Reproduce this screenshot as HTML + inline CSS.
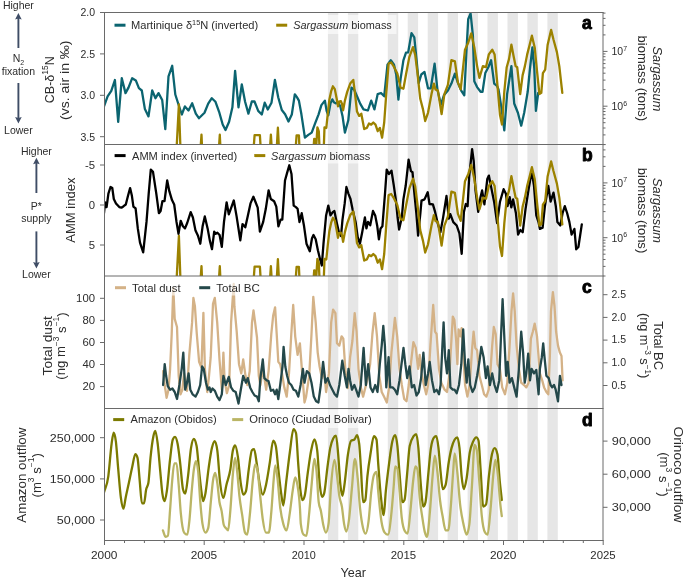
<!DOCTYPE html><html><head><meta charset="utf-8"><style>
html,body{margin:0;padding:0;background:#fff;width:685px;height:578px;overflow:hidden}
svg{display:block;will-change:transform}
text{font-family:'Liberation Sans', sans-serif;fill:#2c2c2c}
</style></head><body>
<svg width="685" height="578" viewBox="0 0 685 578">
<defs>
<clipPath id="ca"><rect x="104.5" y="12.5" width="498.5" height="132.0"/></clipPath>
<clipPath id="cb"><rect x="104.5" y="144.5" width="498.5" height="131.5"/></clipPath>
<clipPath id="cc"><rect x="104.5" y="276.0" width="498.5" height="132.5"/></clipPath>
<clipPath id="cd"><rect x="104.5" y="408.5" width="498.5" height="132.0"/></clipPath>
</defs>
<rect x="327.9" y="12.5" width="10.4" height="528.0" fill="#e6e6e6"/>
<rect x="347.9" y="12.5" width="10.4" height="528.0" fill="#e6e6e6"/>
<rect x="387.8" y="12.5" width="10.4" height="528.0" fill="#e6e6e6"/>
<rect x="407.7" y="12.5" width="10.4" height="528.0" fill="#e6e6e6"/>
<rect x="427.7" y="12.5" width="10.4" height="528.0" fill="#e6e6e6"/>
<rect x="447.6" y="12.5" width="10.4" height="528.0" fill="#e6e6e6"/>
<rect x="467.6" y="12.5" width="10.4" height="528.0" fill="#e6e6e6"/>
<rect x="487.5" y="12.5" width="10.4" height="528.0" fill="#e6e6e6"/>
<rect x="507.5" y="12.5" width="10.4" height="528.0" fill="#e6e6e6"/>
<rect x="527.4" y="12.5" width="10.4" height="528.0" fill="#e6e6e6"/>
<rect x="547.4" y="12.5" width="10.4" height="528.0" fill="#e6e6e6"/>
<polyline clip-path="url(#ca)" points="104.0,106.4 107.6,96.4 111.3,90.9 114.9,80.0 118.2,121.8 121.8,78.2 125.5,93.1 128.5,87.6 132.2,78.2 135.8,80.4 138.9,88.2 141.8,90.5 144.9,109.1 148.5,116.4 152.2,90.5 155.5,98.2 158.5,93.1 162.2,100.0 165.3,129.1 168.5,76.4 172.2,65.8 175.3,94.5 178.5,104.5 181.8,114.5 184.9,106.4 188.5,110.5 192.2,103.3 195.8,113.6 198.9,118.2 204.5,112.7 208.2,103.6 211.8,98.2 215.5,101.8 219.1,111.8 222.7,124.5 225.5,130.0 229.1,121.8 232.4,107.3 235.1,70.9 238.5,107.3 241.8,84.5 245.1,101.8 248.4,113.6 251.8,101.5 254.5,101.5 258.2,110.9 261.8,114.5 264.7,102.7 267.8,109.5 271.5,102.7 274.9,80.0 278.2,97.3 281.8,110.0 285.1,114.2 288.5,121.5 291.8,114.5 294.8,94.3 296.9,97.1 298.9,100.6 301.4,114.3 304.9,137.7 308.3,134.9 311.7,132.6 315.1,123.4 318.6,114.3 321.4,105.1 324.9,100.6 326.6,110.9 328.3,115.4 330.6,102.9 332.3,99.4 334.0,102.3 335.7,103.4 338.0,102.3 340.3,106.3 342.6,116.6 344.9,132.6 348.3,120.3 351.5,87.6 354.2,89.8 357.0,96.3 360.3,103.9 363.5,109.4 367.9,110.5 371.2,100.7 374.4,109.4 377.7,94.1 381.0,93.0 384.2,96.3 387.5,64.7 390.8,60.3 394.0,64.7 396.2,74.5 398.4,99.6 400.6,78.9 403.4,60.3 406.0,52.7 408.2,52.3 411.5,33.1 414.3,37.4 416.5,59.2 418.7,83.2 421.3,74.5 424.5,71.9 428.0,88.3 430.8,88.3 434.6,63.7 437.4,89.4 440.9,104.6 443.9,95.3 447.9,90.6 451.4,83.6 454.9,73.6 457.9,82.9 461.2,90.6 464.3,95.3 466.6,48.6 468.2,19.3 470.6,13.5 472.9,35.7 474.3,81.3 477.1,87.1 480.6,91.8 482.5,91.8 485.3,73.1 488.3,67.2 491.1,60.2 494.2,83.6 497.0,85.9 498.5,89.4 501.5,108.1 504.3,130.3 507.1,94.1 511.4,66.1 514.2,103.5 517.9,112.8 521.2,125.7 524.2,112.8 527.7,91.8 530.0,68.4 532.4,47.4 534.3,68.4 535.9,110.9 538.2,92.9" fill="none" stroke="#0b6470" stroke-width="2.30" stroke-linejoin="round" stroke-linecap="round"/>
<polyline clip-path="url(#ca)" points="170.0,170.0 176.5,150.0 178.9,104.3 180.5,150.0 182.0,170.0 199.0,170.0 201.5,134.7 203.0,170.0 217.5,170.0 219.8,134.7 221.5,170.0 252.0,170.0 254.6,135.2 259.9,135.2 262.0,170.0 268.5,170.0 270.9,134.7 273.0,170.0 275.5,170.0 277.9,127.7 280.0,170.0 294.0,170.0 296.6,135.4 298.9,135.4 300.5,170.0 312.0,170.0 314.2,138.9 315.4,139.4 316.0,150.0 317.4,127.4 318.8,131.4 320.5,170.0 323.0,170.0 324.5,127.4 326.3,128.0 327.7,114.3 329.4,99.4 331.1,91.4 332.9,86.3 334.8,89.1 336.6,98.3 338.0,106.3 339.1,101.7 340.9,101.1 342.0,104.0 343.1,110.3 344.9,100.6 347.2,91.9 350.4,83.2 353.3,79.9 354.8,91.9 357.0,111.6 359.2,115.9 361.3,113.7 364.2,129.0 366.8,127.9 369.0,123.5 371.2,124.6 373.3,122.5 375.5,124.6 377.7,131.2 379.9,127.9 382.1,137.7 384.2,122.5 386.4,91.9 388.6,63.6 391.2,62.5 394.0,66.9 397.3,73.4 400.6,87.6 403.4,88.7 406.0,74.5 409.3,57.1 413.0,47.2 415.2,54.9 417.4,72.3 420.2,98.5 423.0,109.4 425.2,121.0 428.0,112.8 431.5,94.1 433.9,83.6 435.5,89.4 437.9,90.6 441.6,114.0 444.4,94.1 447.9,84.8 451.4,60.2 454.9,61.4 457.9,82.4 460.7,89.4 465.0,49.7 468.2,42.7 471.3,33.4 474.3,47.4 477.1,66.1 479.4,77.8 482.9,66.1 486.0,67.2 488.8,54.4 492.3,49.7 494.6,54.4 497.0,80.1 500.0,115.1 502.0,124.5 504.3,91.8 506.7,67.2 509.0,59.1 511.4,44.6 513.7,56.7 515.6,66.1 517.2,67.2 520.2,94.1 522.6,75.4 524.9,66.1 527.2,54.4 529.6,45.0 531.9,35.7 534.7,47.4 537.1,71.9 539.4,94.1 541.3,92.9 542.9,73.1 545.2,69.6 547.6,45.0 551.1,29.9 553.4,39.2 556.9,52.1 559.3,66.1 562.3,92.9" fill="none" stroke="#9c8200" stroke-width="2.30" stroke-linejoin="round" stroke-linecap="round"/>
<polyline clip-path="url(#cb)" points="104.0,213.2 105.1,202.3 106.6,207.1 108.4,193.6 110.5,187.0 112.3,188.1 113.8,199.0 116.0,203.4 119.3,207.1 121.4,207.7 123.6,206.2 125.8,204.5 128.0,195.8 130.1,188.1 131.9,195.8 133.4,206.6 135.6,208.4 137.8,228.4 140.0,242.6 143.2,252.4 146.5,221.9 148.7,193.6 150.8,169.6 153.0,171.8 156.3,193.6 158.9,213.2 160.6,211.0 162.4,201.2 164.5,201.2 167.2,180.5 169.4,191.4 172.0,200.1 174.2,204.5 176.5,221.9 178.5,233.9 180.7,220.8 182.9,226.3 185.0,228.4 187.2,223.0 190.7,212.1 192.9,217.5 195.5,230.6 198.1,236.1 200.3,243.7 202.6,226.3 204.8,216.4 207.6,228.4 209.8,240.4 212.0,249.1 214.2,231.7 215.7,233.9 217.4,232.8 219.6,235.0 221.8,246.9 224.0,221.9 226.6,202.3 228.8,214.3 231.6,206.6 233.8,200.5 236.6,216.4 240.3,240.4 242.5,224.1 245.3,227.3 247.9,215.4 250.5,203.4 253.4,196.8 255.6,202.3 257.7,207.7 259.9,231.7 263.2,221.9 265.8,208.8 268.6,190.3 270.8,199.0 274.1,201.2 276.3,206.6 278.4,226.3 280.6,219.7 282.3,219.7 285.0,180.5 287.1,172.9 289.3,165.3 291.5,174.0 293.7,205.6 295.9,207.1 297.6,208.8 299.5,222.0 301.7,213.2 303.9,225.2 306.5,243.7 309.8,251.3 312.0,238.2 313.5,235.0 315.7,239.3 317.9,250.2 320.0,258.9 321.8,265.5 323.5,243.7 326.1,215.4 328.3,205.6 330.5,215.4 332.7,212.1 334.4,211.0 336.6,221.9 338.8,231.7 341.0,236.1 342.5,219.7 344.7,203.4 346.4,187.0 348.4,193.6 350.5,199.0 352.7,209.9 355.6,221.9 357.7,237.1 359.9,243.7 362.1,232.8 364.9,217.5 366.4,228.4 368.0,221.9 370.2,225.2 373.0,211.0 375.2,215.4 377.3,226.3 378.9,239.3 380.6,228.4 382.4,226.3 385.0,193.6 386.7,169.6 388.9,174.0 391.5,170.7 393.7,184.9 395.9,200.1 397.6,217.5 399.1,229.5 401.8,217.6 403.4,199.4 405.7,185.8 408.6,159.7 410.9,171.1 412.5,172.2 414.1,190.4 416.3,213.0 418.1,235.7 420.4,213.0 421.5,200.6 424.5,199.4 427.7,192.2 429.5,204.0 432.9,204.4 435.1,211.9 437.4,222.1 440.4,232.3 443.1,217.6 446.5,196.0 448.8,218.7 450.3,214.2 453.3,222.1 456.7,225.5 459.4,233.4 461.7,253.8 463.9,211.9 465.8,204.0 467.6,206.2 469.2,176.7 472.1,149.1 473.7,160.9 475.5,190.4 478.2,211.9 480.5,197.2 482.1,190.4 484.4,204.4 487.3,179.0 488.9,175.6 491.8,190.4 494.1,201.7 497.1,223.2 500.0,201.7 503.6,189.2 505.9,193.8 507.5,206.2 509.7,197.2 511.3,207.4 513.1,199.4 515.9,213.0 518.1,234.6 520.4,230.0 522.7,232.3 525.6,208.5 528.6,189.2 531.7,171.1 534.0,185.8 536.3,215.3 538.5,222.1 539.9,228.9 542.6,227.8 544.9,206.2 548.3,185.8 550.6,201.7 553.5,192.6 555.8,206.2 557.4,222.1 560.3,225.5 562.6,213.0 564.8,206.2 567.1,213.0 569.4,222.1 571.6,234.6 574.4,228.9 576.2,249.3 578.4,247.0 581.8,224.4" fill="none" stroke="#000000" stroke-width="2.30" stroke-linejoin="round" stroke-linecap="round"/>
<polyline clip-path="url(#cb)" points="170.0,301.5 176.5,281.5 178.9,235.8 180.5,281.5 182.0,301.5 199.0,301.5 201.5,266.2 203.0,301.5 217.5,301.5 219.8,266.2 221.5,301.5 252.0,301.5 254.6,266.7 259.9,266.7 262.0,301.5 268.5,301.5 270.9,266.2 273.0,301.5 275.5,301.5 277.9,259.2 280.0,301.5 294.0,301.5 296.6,266.9 298.9,266.9 300.5,301.5 312.0,301.5 314.2,270.4 315.4,270.9 316.0,281.5 317.4,258.9 318.8,262.9 320.5,301.5 323.0,301.5 324.5,258.9 326.3,259.5 327.7,245.8 329.4,230.9 331.1,222.9 332.9,217.8 334.8,220.6 336.6,229.8 338.0,237.8 339.1,233.2 340.9,232.6 342.0,235.5 343.1,241.8 344.9,232.1 347.2,223.4 350.4,214.7 353.3,211.4 354.8,223.4 357.0,243.1 359.2,247.4 361.3,245.2 364.2,260.5 366.8,259.4 369.0,255.0 371.2,256.1 373.3,254.0 375.5,256.1 377.7,262.7 379.9,259.4 382.1,269.2 384.2,254.0 386.4,223.4 388.6,195.1 391.2,194.0 394.0,198.4 397.3,204.9 400.6,219.1 403.4,220.2 406.0,206.0 409.3,188.6 413.0,178.7 415.2,186.4 417.4,203.8 420.2,230.0 423.0,240.9 425.2,252.5 428.0,244.3 431.5,225.6 433.9,215.1 435.5,220.9 437.9,222.1 441.6,245.5 444.4,225.6 447.9,216.3 451.4,191.7 454.9,192.9 457.9,213.9 460.7,220.9 465.0,181.2 468.2,174.2 471.3,164.9 474.3,178.9 477.1,197.6 479.4,209.3 482.9,197.6 486.0,198.7 488.8,185.9 492.3,181.2 494.6,185.9 497.0,211.6 500.0,246.6 502.0,256.0 504.3,223.3 506.7,198.7 509.0,190.6 511.4,176.1 513.7,188.2 515.6,197.6 517.2,198.7 520.2,225.6 522.6,206.9 524.9,197.6 527.2,185.9 529.6,176.5 531.9,167.2 534.7,178.9 537.1,203.4 539.4,225.6 541.3,224.4 542.9,204.6 545.2,201.1 547.6,176.5 551.1,161.4 553.4,170.7 556.9,183.6 559.3,197.6 562.3,224.4" fill="none" stroke="#9c8200" stroke-width="2.30" stroke-linejoin="round" stroke-linecap="round"/>
<polyline clip-path="url(#cc)" points="163.1,371.1 164.7,385.0 166.6,397.8 168.5,389.7 170.1,368.8 171.7,334.0 173.3,288.0 174.7,318.9 177.0,327.0 178.7,375.8 180.5,394.3 182.4,389.7 184.0,373.4 185.6,385.0 187.0,390.8 189.3,354.9 192.1,322.4 193.4,297.9 194.9,306.2 196.8,334.0 199.1,361.8 201.4,367.6 203.4,312.8 204.9,368.8 207.2,392.0 208.8,378.1 210.7,357.2 213.0,303.8 214.8,297.9 217.2,322.4 219.5,359.5 221.8,389.7 223.4,352.6 224.6,380.4 226.9,393.2 229.2,385.0 231.1,322.4 233.7,284.0 234.4,306.2 236.7,331.7 239.0,364.2 241.3,373.4 243.2,359.5 245.5,375.8 247.3,385.0 249.7,371.1 252.0,322.4 253.5,310.5 255.1,322.4 257.0,337.5 258.8,375.8 260.4,385.0 262.8,368.8 264.4,378.1 266.2,389.7 268.6,371.1 271.3,334.0 273.2,315.4 275.1,307.3 276.7,334.0 278.3,361.8 280.2,364.2 282.0,373.4 284.3,387.4 286.7,396.6 289.0,373.4 291.3,334.0 293.2,305.0 295.2,336.3 297.6,354.9 299.9,343.3 302.2,373.4 304.5,402.5 306.1,396.6 309.2,375.8 311.5,334.0 313.3,296.9 315.7,322.4 317.7,352.6 319.6,366.5 321.9,378.1 323.8,368.8 326.1,392.0 328.9,373.4 331.2,322.4 333.1,309.6 335.4,313.1 337.0,343.3 339.3,345.6 341.6,336.3 343.3,338.6 345.5,372.0 347.8,388.0 350.1,357.2 352.4,341.0 354.7,313.1 356.6,331.7 358.5,368.8 360.8,387.4 363.1,396.6 365.4,387.4 367.7,378.1 370.1,364.2 372.4,334.0 374.7,313.1 377.0,336.3 379.3,375.8 381.7,392.0 384.0,396.6 386.8,402.5 389.1,387.4 391.4,352.6 393.3,334.0 394.9,317.8 397.2,336.3 399.5,368.8 401.8,385.0 404.2,399.0 406.5,401.3 408.8,385.0 411.1,361.8 413.4,342.1 415.8,347.9 418.1,368.8 419.7,354.9 421.6,373.4 423.9,385.0 426.2,394.3 428.1,385.0 430.4,345.6 432.0,322.4 433.2,305.0 435.0,331.7 436.6,334.0 439.0,368.8 441.3,382.7 444.6,389.7 447.0,392.0 449.3,375.8 451.1,345.6 452.8,316.6 454.4,320.1 456.2,341.0 457.4,364.2 458.6,329.4 460.4,336.3 461.6,328.2 463.2,352.6 465.1,385.0 467.4,396.6 469.7,385.0 472.0,350.2 473.6,331.7 475.3,347.9 477.1,350.2 479.4,375.8 481.8,385.0 484.1,394.3 486.4,396.6 488.7,389.7 490.6,368.8 492.2,345.6 493.8,327.0 495.7,334.0 497.5,364.2 499.9,368.8 502.2,387.4 505.0,394.3 507.3,382.7 509.6,345.6 511.5,310.8 513.1,293.4 514.7,310.8 516.6,345.6 518.9,368.8 521.2,382.7 524.0,385.0 526.3,387.4 528.6,382.7 530.9,338.6 532.8,331.7 534.7,323.6 537.0,336.3 539.9,373.4 542.2,380.4 544.1,387.4 546.4,392.0 548.3,394.3 549.9,354.9 551.0,310.8 552.9,292.2 554.5,306.2 556.1,331.7 558.0,345.6 559.9,352.6 561.5,356.0 562.6,380.4" fill="none" stroke="#d4b287" stroke-width="2.30" stroke-linejoin="round" stroke-linecap="round"/>
<polyline clip-path="url(#cc)" points="163.1,385.0 164.7,364.2 166.1,375.8 167.8,386.2 170.1,389.7 172.4,388.5 174.7,392.0 177.0,399.0 179.4,385.0 181.7,368.8 183.3,352.6 185.2,389.7 187.0,382.7 188.6,373.4 190.3,389.7 192.6,394.3 195.6,396.6 197.9,392.0 200.2,385.0 202.1,366.5 203.7,368.8 206.0,382.7 207.9,389.7 209.5,387.4 210.7,392.0 212.5,388.5 214.9,390.8 217.2,396.6 219.5,400.1 221.8,394.3 223.4,375.8 225.8,385.0 228.8,376.9 231.1,387.4 233.4,390.8 235.7,392.0 238.5,403.6 240.8,389.7 243.2,375.8 245.9,382.7 247.8,378.1 250.1,387.4 252.4,392.0 254.6,395.5 257.0,396.6 258.8,401.3 260.4,378.1 262.8,359.5 264.4,378.1 266.7,380.4 268.5,381.0 270.9,390.8 273.2,389.7 275.1,394.3 276.7,389.7 278.3,399.0 280.2,385.0 282.5,366.5 283.6,346.8 285.3,366.5 287.1,375.8 289.0,382.7 291.3,385.0 293.6,389.7 295.9,390.8 298.3,396.6 300.6,385.0 302.9,368.8 304.5,382.7 306.8,371.1 309.2,373.4 311.5,382.7 313.8,396.6 316.1,401.3 318.4,402.5 320.8,385.0 323.1,361.8 325.4,382.7 327.7,378.1 330.0,385.0 332.4,389.7 334.7,394.3 337.0,396.6 339.3,385.0 342.3,360.7 344.7,375.8 346.9,387.4 348.5,368.8 350.1,380.4 352.0,389.7 354.3,385.0 356.1,389.7 358.5,396.6 360.8,385.0 363.6,347.9 365.9,385.0 368.2,364.2 370.5,387.4 372.8,392.0 375.2,385.0 377.5,392.0 379.8,364.2 381.7,345.6 383.3,325.9 384.9,345.6 386.3,387.4 388.6,357.2 390.2,387.4 392.6,387.4 394.9,389.7 397.2,394.3 399.5,380.4 401.8,361.8 403.5,347.9 405.3,364.2 407.2,378.1 409.5,366.5 411.8,387.4 414.1,385.0 416.5,395.5 418.8,392.0 421.1,378.1 423.4,352.6 425.7,385.0 428.1,373.4 429.7,361.8 432.0,380.4 434.3,392.0 436.6,389.7 439.0,394.3 440.6,385.0 442.4,345.6 443.6,322.4 445.1,357.2 447.0,373.4 448.8,350.2 450.4,387.4 452.8,389.7 454.5,389.7 456.7,393.2 459.0,385.0 461.3,364.2 463.2,329.4 465.1,364.2 466.7,382.7 468.3,359.5 470.2,385.0 472.5,392.0 474.8,387.4 477.1,375.8 479.4,361.8 481.3,346.8 483.6,357.2 485.9,378.1 487.6,366.5 489.9,385.0 492.2,373.4 494.5,385.0 496.8,392.0 499.2,380.4 500.8,341.0 502.6,299.2 504.5,341.0 506.1,375.8 507.7,361.8 509.6,382.7 511.9,378.1 514.2,387.4 516.6,396.6 518.9,368.8 521.2,331.7 523.1,352.6 524.7,382.7 526.3,373.4 528.2,353.7 530.0,380.4 531.6,368.8 534.0,373.4 536.3,370.0 538.6,394.3 539.9,368.8 541.8,357.2 543.2,343.3 544.5,357.2 546.4,375.8 548.7,378.1 550.6,385.0 552.2,387.4 554.0,385.0 555.7,389.7 558.0,401.3 559.9,375.8 561.5,385.0" fill="none" stroke="#24484a" stroke-width="2.30" stroke-linejoin="round" stroke-linecap="round"/>
<path clip-path="url(#cd)" d="M104.0,492.5 C105.43,487.10 106.87,486.63 108.3,476.3 C109.40,468.37 110.50,451.60 111.6,443.8 C112.30,438.84 113.00,432.60 113.7,432.6 C114.43,432.60 115.17,435.77 115.9,441.6 C116.63,447.43 117.37,459.25 118.1,467.6 C119.03,478.22 119.97,491.03 120.9,497.9 C121.77,504.28 122.63,508.70 123.5,508.7 C124.20,508.70 124.90,501.35 125.6,497.9 C126.70,492.49 127.80,487.93 128.9,482.8 C129.97,477.82 131.03,472.30 132.1,467.6 C133.20,462.75 134.30,454.20 135.4,454.2 C136.10,454.20 136.80,455.43 137.5,457.9 C138.23,460.48 138.97,473.03 139.7,480.6 C140.43,488.17 141.17,503.30 141.9,503.3 C142.60,503.30 143.30,503.30 144.0,503.3 C144.73,503.30 145.47,492.72 146.2,489.3 C146.93,485.88 147.67,487.13 148.4,482.8 C149.10,478.66 149.80,464.91 150.5,457.9 C151.47,448.21 152.43,440.72 153.4,436.2 C154.03,433.24 154.67,430.80 155.3,430.8 C156.10,430.80 156.90,437.40 157.7,443.8 C158.57,450.74 159.43,462.76 160.3,471.9 C161.00,479.28 161.70,488.76 162.4,493.6 C163.13,498.67 163.87,501.20 164.6,501.2 C165.33,501.20 166.07,496.27 166.8,491.4 C167.87,484.32 168.93,469.05 170.0,460.0 C170.93,452.08 171.87,441.71 172.8,439.5 C173.53,437.77 174.27,436.90 175.0,436.9 C175.87,436.90 176.73,439.40 177.6,443.8 C178.47,448.20 179.33,456.05 180.2,463.3 C181.13,471.10 182.07,485.65 183.0,489.3 C183.73,492.17 184.47,493.60 185.2,493.6 C186.13,493.60 187.07,483.52 188.0,476.3 C189.00,468.57 190.00,454.32 191.0,448.1 C191.93,442.30 192.87,439.00 193.8,439.0 C194.73,439.00 195.67,441.33 196.6,446.0 C197.47,450.33 198.33,463.78 199.2,471.9 C199.93,478.77 200.67,486.28 201.4,491.4 C202.00,495.59 202.60,501.20 203.2,501.2 C203.93,501.20 204.67,497.43 205.4,493.6 C206.50,487.85 207.60,475.27 208.7,467.6 C209.77,460.16 210.83,452.54 211.9,448.1 C212.83,444.22 213.77,441.20 214.7,441.2 C215.57,441.20 216.43,444.23 217.3,450.3 C218.17,456.37 219.03,472.98 219.9,480.6 C221.07,490.86 222.23,497.90 223.4,497.9 C224.40,497.90 225.40,489.03 226.4,484.9 C227.70,479.53 229.00,477.66 230.3,469.8 C231.17,464.56 232.03,454.08 232.9,450.3 C233.63,447.10 234.37,445.50 235.1,445.5 C236.03,445.50 236.97,450.58 237.9,456.8 C238.83,463.02 239.77,476.41 240.7,482.8 C241.57,488.73 242.43,494.70 243.3,494.7 C244.17,494.70 245.03,493.60 245.9,491.4 C246.83,489.03 247.77,476.29 248.7,469.8 C249.77,462.38 250.83,451.37 251.9,450.3 C252.63,449.57 253.37,449.20 254.1,449.2 C254.97,449.20 255.83,457.96 256.7,463.3 C257.63,469.05 258.57,477.74 259.5,482.8 C260.60,488.77 261.70,494.70 262.8,494.7 C263.87,494.70 264.93,489.54 266.0,484.9 C267.23,479.54 268.47,470.91 269.7,463.3 C270.87,456.10 272.03,440.60 273.2,440.6 C274.07,440.60 274.93,442.40 275.8,446.0 C276.67,449.60 277.53,462.14 278.4,469.8 C279.33,478.05 280.27,487.18 281.2,493.6 C281.90,498.42 282.60,505.50 283.3,505.5 C284.23,505.50 285.17,490.40 286.1,482.8 C287.33,472.76 288.57,461.45 289.8,452.5 C291.03,443.55 292.27,429.10 293.5,429.1 C294.33,429.10 295.17,430.40 296.0,433.0 C296.73,435.29 297.47,453.72 298.2,463.3 C298.90,472.44 299.60,483.19 300.3,489.3 C301.03,495.70 301.77,500.10 302.5,500.1 C303.23,500.10 303.97,498.67 304.7,495.8 C305.77,491.63 306.83,479.38 307.9,471.9 C309.00,464.18 310.10,455.73 311.2,450.3 C312.27,445.04 313.33,439.50 314.4,439.5 C315.33,439.50 316.27,443.10 317.2,450.3 C318.07,456.99 318.93,477.07 319.8,484.9 C320.53,491.52 321.27,496.80 322.0,496.8 C322.70,496.80 323.40,495.73 324.1,493.6 C325.20,490.25 326.30,475.72 327.4,467.6 C328.33,460.71 329.27,452.92 330.2,448.1 C331.20,442.94 332.20,440.40 333.2,438.4 C334.13,436.53 335.07,435.60 336.0,435.6 C336.73,435.60 337.47,446.38 338.2,454.6 C338.93,462.82 339.67,478.02 340.4,484.9 C341.10,491.47 341.80,495.80 342.5,495.8 C343.23,495.80 343.97,488.00 344.7,482.8 C345.77,475.24 346.83,461.60 347.9,454.6 C349.00,447.38 350.10,441.36 351.2,440.6 C352.27,439.87 353.33,440.23 354.4,439.5 C355.27,438.90 356.13,435.20 357.0,435.2 C357.73,435.20 358.47,438.07 359.2,443.8 C359.77,448.23 360.33,459.24 360.9,467.6 C361.63,478.42 362.37,502.20 363.1,502.2 C363.83,502.20 364.57,501.50 365.3,500.1 C366.00,498.76 366.70,483.11 367.4,476.3 C368.50,465.60 369.60,459.25 370.7,452.5 C371.77,445.95 372.83,436.20 373.9,436.2 C374.77,436.20 375.63,437.30 376.5,439.5 C377.07,440.94 377.63,455.70 378.2,463.3 C379.07,474.92 379.93,487.35 380.8,495.8 C381.77,505.23 382.73,515.20 383.7,515.2 C384.40,515.20 385.10,498.57 385.8,491.4 C386.90,480.14 388.00,471.70 389.1,463.3 C390.17,455.16 391.23,446.29 392.3,441.6 C393.27,437.35 394.23,435.10 395.2,435.1 C395.93,435.10 396.67,439.40 397.4,445.9 C398.13,452.40 398.87,465.60 399.6,474.1 C400.53,484.92 401.47,502.20 402.4,502.2 C403.10,502.20 403.80,501.47 404.5,500.0 C405.37,498.18 406.23,483.12 407.1,474.1 C407.97,465.08 408.83,450.21 409.7,445.9 C411.00,439.43 412.30,438.12 413.6,436.2 C414.47,434.92 415.33,434.10 416.2,434.1 C416.93,434.10 417.67,440.03 418.4,448.1 C419.10,455.80 419.80,471.60 420.5,480.5 C421.47,492.79 422.43,506.50 423.4,506.5 C424.10,506.50 424.80,505.07 425.5,502.2 C426.43,498.38 427.37,483.45 428.3,474.1 C429.17,465.42 430.03,453.77 430.9,448.1 C432.00,440.90 433.10,438.45 434.2,437.3 C434.90,436.57 435.60,436.20 436.3,436.2 C437.03,436.20 437.77,441.91 438.5,448.1 C439.20,454.01 439.90,465.15 440.6,471.9 C441.33,478.97 442.07,489.20 442.8,489.2 C443.73,489.20 444.67,487.77 445.6,484.9 C446.60,481.83 447.60,469.40 448.6,463.2 C449.57,457.20 450.53,451.98 451.5,448.1 C452.57,443.82 453.63,441.28 454.7,439.5 C455.57,438.05 456.43,437.30 457.3,437.3 C458.03,437.30 458.77,441.32 459.5,448.1 C460.20,454.57 460.90,469.39 461.6,476.2 C462.33,483.34 463.07,489.20 463.8,489.2 C464.73,489.20 465.67,483.86 466.6,478.4 C467.67,472.16 468.73,458.52 469.8,452.4 C470.90,446.09 472.00,444.12 473.1,441.6 C474.17,439.15 475.23,437.30 476.3,437.3 C477.03,437.30 477.77,438.37 478.5,440.5 C479.20,442.54 479.90,459.89 480.6,469.7 C481.47,481.85 482.33,506.50 483.2,506.5 C484.17,506.50 485.13,505.77 486.1,504.3 C487.03,502.88 487.97,484.29 488.9,476.2 C489.90,467.53 490.90,459.24 491.9,454.6 C492.83,450.27 493.77,448.10 494.7,448.1 C495.63,448.10 496.57,450.27 497.5,454.6 C498.23,458.00 498.97,472.80 499.7,480.5 C500.40,487.85 501.10,493.50 501.8,500.0" fill="none" stroke="#7b7a00" stroke-width="2.30" stroke-linejoin="round" stroke-linecap="round"/>
<path clip-path="url(#cd)" d="M162.9,530.4 C163.83,532.57 164.77,536.90 165.7,536.9 C166.43,536.90 167.17,536.53 167.9,535.8 C168.60,535.10 169.30,519.85 170.0,510.9 C170.73,501.52 171.47,488.62 172.2,480.6 C172.90,472.94 173.60,463.30 174.3,463.3 C175.03,463.30 175.77,463.30 176.5,463.3 C177.23,463.30 177.97,476.35 178.7,484.9 C179.40,493.07 180.10,505.75 180.8,513.1 C181.90,524.65 183.00,531.16 184.1,532.6 C185.17,534.00 186.23,534.70 187.3,534.7 C188.03,534.70 188.77,526.82 189.5,519.6 C190.23,512.38 190.97,499.85 191.7,491.4 C192.40,483.33 193.10,474.84 193.8,469.8 C194.53,464.52 195.27,461.10 196.0,461.1 C196.73,461.10 197.47,464.73 198.2,471.9 C198.90,478.75 199.60,493.66 200.3,502.2 C201.03,511.15 201.77,519.50 202.5,523.9 C203.47,529.70 204.43,532.60 205.4,532.6 C206.33,532.60 207.27,531.13 208.2,528.2 C209.07,525.48 209.93,510.78 210.8,502.2 C211.53,494.94 212.27,485.47 213.0,480.6 C213.73,475.73 214.47,473.00 215.2,473.0 C215.90,473.00 216.60,478.11 217.3,482.8 C218.03,487.71 218.77,497.49 219.5,502.2 C220.20,506.70 220.90,507.23 221.6,510.9 C222.33,514.75 223.07,522.87 223.8,525.0 C224.53,527.13 225.27,527.29 226.0,528.2 C226.70,529.07 227.40,530.40 228.1,530.4 C228.83,530.40 229.57,519.18 230.3,510.9 C231.17,501.12 232.03,483.18 232.9,474.1 C233.63,466.42 234.37,457.90 235.1,457.9 C235.80,457.90 236.50,465.80 237.2,471.9 C237.93,478.29 238.67,489.10 239.4,495.8 C240.33,504.32 241.27,509.07 242.2,515.2 C243.13,521.33 244.07,530.82 245.0,532.6 C245.73,534.00 246.47,534.70 247.2,534.7 C248.07,534.70 248.93,523.25 249.8,515.2 C250.87,505.29 251.93,487.42 253.0,478.4 C253.73,472.20 254.47,464.40 255.2,464.4 C255.93,464.40 256.67,466.20 257.4,469.8 C258.33,474.38 259.27,487.20 260.2,495.8 C261.07,503.79 261.93,513.64 262.8,519.6 C263.87,526.93 264.93,532.60 266.0,532.6 C266.93,532.60 267.87,532.60 268.8,532.6 C269.67,532.60 270.53,520.68 271.4,510.9 C272.13,502.62 272.87,488.68 273.6,480.6 C274.17,474.36 274.73,465.50 275.3,465.5 C276.03,465.50 276.77,472.43 277.5,478.4 C278.37,485.46 279.23,499.31 280.1,506.6 C281.17,515.57 282.23,519.94 283.3,523.9 C284.40,527.99 285.50,530.40 286.6,530.4 C287.67,530.40 288.73,520.20 289.8,513.1 C290.73,506.89 291.67,497.49 292.6,491.4 C293.47,485.75 294.33,477.40 295.2,477.4 C295.93,477.40 296.67,480.47 297.4,484.9 C298.27,490.14 299.13,494.24 300.0,508.7 C300.27,513.15 300.53,521.84 300.8,523.9 C301.73,531.10 302.67,533.97 303.6,534.7 C304.53,535.43 305.47,535.80 306.4,535.8 C307.27,535.80 308.13,523.68 309.0,515.2 C309.87,506.72 310.73,494.00 311.6,484.9 C312.53,475.10 313.47,459.00 314.4,459.0 C315.13,459.00 315.87,464.39 316.6,471.9 C317.30,479.07 318.00,496.66 318.7,502.2 C319.43,508.00 320.17,507.28 320.9,510.9 C321.63,514.52 322.37,520.47 323.1,523.9 C324.03,528.26 324.97,532.60 325.9,532.6 C326.77,532.60 327.63,529.70 328.5,523.9 C329.37,518.10 330.23,495.02 331.1,484.9 C332.23,471.67 333.37,460.00 334.5,460.0 C335.37,460.00 336.23,469.65 337.1,476.3 C337.83,481.93 338.57,490.88 339.3,495.8 C340.17,501.61 341.03,501.26 341.9,506.6 C342.63,511.12 343.37,519.73 344.1,523.9 C344.80,527.88 345.50,531.50 346.2,531.5 C347.13,531.50 348.07,526.63 349.0,519.6 C349.93,512.57 350.87,498.94 351.8,489.3 C352.83,478.63 353.87,459.00 354.9,459.0 C355.83,459.00 356.77,468.86 357.7,478.4 C358.43,485.90 359.17,499.01 359.9,506.6 C360.97,517.64 362.03,523.77 363.1,528.2 C363.97,531.80 364.83,533.60 365.7,533.6 C366.63,533.60 367.57,528.73 368.5,521.7 C369.43,514.67 370.37,499.28 371.3,491.4 C372.17,484.08 373.03,477.40 373.9,475.2 C374.77,473.00 375.63,471.90 376.5,471.9 C377.07,471.90 377.63,485.34 378.2,491.4 C379.30,503.16 380.40,514.83 381.5,521.7 C382.57,528.37 383.63,531.24 384.7,532.6 C385.80,534.00 386.90,534.70 388.0,534.7 C389.07,534.70 390.13,524.97 391.2,515.2 C392.07,507.26 392.93,495.84 393.8,484.9 C394.27,479.01 394.73,466.50 395.2,466.5 C395.93,466.50 396.67,467.20 397.4,468.6 C398.13,470.00 398.87,483.06 399.6,491.4 C400.30,499.36 401.00,511.32 401.7,517.3 C402.80,526.70 403.90,529.62 405.0,531.4 C405.87,532.80 406.73,533.50 407.6,533.5 C408.53,533.50 409.47,519.63 410.4,510.8 C411.33,501.97 412.27,488.27 413.2,480.5 C413.93,474.39 414.67,466.50 415.4,466.5 C416.10,466.50 416.80,467.57 417.5,469.7 C418.23,471.93 418.97,490.21 419.7,497.8 C420.57,506.78 421.43,511.53 422.3,517.3 C423.17,523.07 424.03,529.15 424.9,532.4 C425.60,535.03 426.30,536.80 427.0,536.8 C427.93,536.80 428.87,523.10 429.8,513.0 C430.73,502.90 431.67,486.47 432.6,476.2 C433.33,468.13 434.07,455.70 434.8,455.7 C435.67,455.70 436.53,464.52 437.4,471.9 C438.27,479.28 439.13,492.56 440.0,500.0 C440.93,508.01 441.87,512.25 442.8,517.3 C443.73,522.35 444.67,530.30 445.6,530.3 C446.47,530.30 447.33,530.30 448.2,530.3 C449.07,530.30 449.93,517.05 450.8,506.5 C451.53,497.57 452.27,483.82 453.0,474.1 C453.57,466.59 454.13,453.50 454.7,453.5 C455.57,453.50 456.43,463.89 457.3,471.9 C458.23,480.52 459.17,495.93 460.1,504.3 C461.20,514.17 462.30,518.72 463.4,523.8 C464.47,528.73 465.53,534.60 466.6,534.6 C467.53,534.60 468.47,531.00 469.4,523.8 C470.27,517.11 471.13,498.05 472.0,484.9 C472.87,471.75 473.73,444.90 474.6,444.9 C475.33,444.90 476.07,446.70 476.8,450.3 C477.50,453.74 478.20,467.10 478.9,476.2 C479.83,488.33 480.77,505.84 481.7,515.1 C482.80,526.01 483.90,530.54 485.0,532.4 C485.87,533.87 486.73,534.60 487.6,534.6 C488.53,534.60 489.47,520.33 490.4,510.8 C491.47,499.91 492.53,481.08 493.6,471.9 C494.20,466.74 494.80,460.00 495.4,460.0 C496.27,460.00 497.13,467.85 498.0,476.2 C498.70,482.94 499.40,495.14 500.1,502.2 C500.67,507.92 501.23,511.53 501.8,516.2" fill="none" stroke="#bab565" stroke-width="2.30" stroke-linejoin="round" stroke-linecap="round"/>
<rect x="108" y="15" width="288.5" height="19" fill="#ffffff" fill-opacity="0.6"/>
<rect x="108" y="145.5" width="267" height="18" fill="#ffffff" fill-opacity="0.6"/>
<rect x="108" y="278" width="154" height="17.5" fill="#ffffff" fill-opacity="0.6"/>
<rect x="108" y="409.5" width="268" height="18.5" fill="#ffffff" fill-opacity="0.6"/>
<line x1="104.0" y1="12.5" x2="603.5" y2="12.5" stroke="#6a6a6a" stroke-width="1"/>
<line x1="104.0" y1="144.5" x2="603.5" y2="144.5" stroke="#6a6a6a" stroke-width="1"/>
<line x1="104.0" y1="276.0" x2="603.5" y2="276.0" stroke="#6a6a6a" stroke-width="1"/>
<line x1="104.0" y1="408.5" x2="603.5" y2="408.5" stroke="#6a6a6a" stroke-width="1"/>
<line x1="104.0" y1="540.5" x2="603.5" y2="540.5" stroke="#6a6a6a" stroke-width="1"/>
<line x1="104.5" y1="12.0" x2="104.5" y2="541.0" stroke="#6a6a6a" stroke-width="1"/>
<line x1="603.0" y1="12.0" x2="603.0" y2="541.0" stroke="#6a6a6a" stroke-width="1"/>
<line x1="100.0" y1="12.5" x2="104.5" y2="12.5" stroke="#6a6a6a" stroke-width="1"/>
<text transform="translate(95.0,16.3) scale(1.000,1)" font-size="10.5" text-anchor="end">2.0</text>
<line x1="100.0" y1="53.9" x2="104.5" y2="53.9" stroke="#6a6a6a" stroke-width="1"/>
<text transform="translate(95.0,57.7) scale(1.000,1)" font-size="10.5" text-anchor="end">2.5</text>
<line x1="100.0" y1="95.3" x2="104.5" y2="95.3" stroke="#6a6a6a" stroke-width="1"/>
<text transform="translate(95.0,99.1) scale(1.000,1)" font-size="10.5" text-anchor="end">3.0</text>
<line x1="100.0" y1="136.7" x2="104.5" y2="136.7" stroke="#6a6a6a" stroke-width="1"/>
<text transform="translate(95.0,140.5) scale(1.000,1)" font-size="10.5" text-anchor="end">3.5</text>
<line x1="100.0" y1="165.0" x2="104.5" y2="165.0" stroke="#6a6a6a" stroke-width="1"/>
<text transform="translate(95.0,168.8) scale(1.080,1)" font-size="10.5" text-anchor="end">-5</text>
<line x1="100.0" y1="205.0" x2="104.5" y2="205.0" stroke="#6a6a6a" stroke-width="1"/>
<text transform="translate(95.0,208.8) scale(1.080,1)" font-size="10.5" text-anchor="end">0</text>
<line x1="100.0" y1="245.0" x2="104.5" y2="245.0" stroke="#6a6a6a" stroke-width="1"/>
<text transform="translate(95.0,248.8) scale(1.080,1)" font-size="10.5" text-anchor="end">5</text>
<line x1="100.0" y1="298.3" x2="104.5" y2="298.3" stroke="#6a6a6a" stroke-width="1"/>
<text transform="translate(95.0,302.1) scale(1.080,1)" font-size="10.5" text-anchor="end">100</text>
<line x1="100.0" y1="320.4" x2="104.5" y2="320.4" stroke="#6a6a6a" stroke-width="1"/>
<text transform="translate(95.0,324.2) scale(1.080,1)" font-size="10.5" text-anchor="end">80</text>
<line x1="100.0" y1="342.5" x2="104.5" y2="342.5" stroke="#6a6a6a" stroke-width="1"/>
<text transform="translate(95.0,346.2) scale(1.080,1)" font-size="10.5" text-anchor="end">60</text>
<line x1="100.0" y1="364.5" x2="104.5" y2="364.5" stroke="#6a6a6a" stroke-width="1"/>
<text transform="translate(95.0,368.3) scale(1.080,1)" font-size="10.5" text-anchor="end">40</text>
<line x1="100.0" y1="386.6" x2="104.5" y2="386.6" stroke="#6a6a6a" stroke-width="1"/>
<text transform="translate(95.0,390.4) scale(1.080,1)" font-size="10.5" text-anchor="end">20</text>
<line x1="100.0" y1="437.7" x2="104.5" y2="437.7" stroke="#6a6a6a" stroke-width="1"/>
<text transform="translate(95.0,441.5) scale(1.190,1)" font-size="10.5" text-anchor="end">250,000</text>
<line x1="100.0" y1="478.9" x2="104.5" y2="478.9" stroke="#6a6a6a" stroke-width="1"/>
<text transform="translate(95.0,482.6) scale(1.190,1)" font-size="10.5" text-anchor="end">150,000</text>
<line x1="100.0" y1="520.0" x2="104.5" y2="520.0" stroke="#6a6a6a" stroke-width="1"/>
<text transform="translate(95.0,523.8) scale(1.190,1)" font-size="10.5" text-anchor="end">50,000</text>
<line x1="603.0" y1="144.5" x2="605.5" y2="144.5" stroke="#6a6a6a" stroke-width="1"/>
<line x1="603.0" y1="134.9" x2="605.5" y2="134.9" stroke="#6a6a6a" stroke-width="1"/>
<line x1="603.0" y1="128.0" x2="605.5" y2="128.0" stroke="#6a6a6a" stroke-width="1"/>
<line x1="603.0" y1="122.7" x2="605.5" y2="122.7" stroke="#6a6a6a" stroke-width="1"/>
<line x1="603.0" y1="118.4" x2="605.5" y2="118.4" stroke="#6a6a6a" stroke-width="1"/>
<line x1="603.0" y1="114.7" x2="605.5" y2="114.7" stroke="#6a6a6a" stroke-width="1"/>
<line x1="603.0" y1="111.5" x2="605.5" y2="111.5" stroke="#6a6a6a" stroke-width="1"/>
<line x1="603.0" y1="108.7" x2="605.5" y2="108.7" stroke="#6a6a6a" stroke-width="1"/>
<line x1="603.0" y1="106.2" x2="607.5" y2="106.2" stroke="#6a6a6a" stroke-width="1"/>
<text x="611.5" y="110.0" font-size="10.5">10<tspan font-size="7" dy="-4.5">6</tspan></text>
<line x1="603.0" y1="89.7" x2="605.5" y2="89.7" stroke="#6a6a6a" stroke-width="1"/>
<line x1="603.0" y1="80.1" x2="605.5" y2="80.1" stroke="#6a6a6a" stroke-width="1"/>
<line x1="603.0" y1="73.2" x2="605.5" y2="73.2" stroke="#6a6a6a" stroke-width="1"/>
<line x1="603.0" y1="67.9" x2="605.5" y2="67.9" stroke="#6a6a6a" stroke-width="1"/>
<line x1="603.0" y1="63.6" x2="605.5" y2="63.6" stroke="#6a6a6a" stroke-width="1"/>
<line x1="603.0" y1="59.9" x2="605.5" y2="59.9" stroke="#6a6a6a" stroke-width="1"/>
<line x1="603.0" y1="56.7" x2="605.5" y2="56.7" stroke="#6a6a6a" stroke-width="1"/>
<line x1="603.0" y1="53.9" x2="605.5" y2="53.9" stroke="#6a6a6a" stroke-width="1"/>
<line x1="603.0" y1="51.4" x2="607.5" y2="51.4" stroke="#6a6a6a" stroke-width="1"/>
<text x="611.5" y="55.2" font-size="10.5">10<tspan font-size="7" dy="-4.5">7</tspan></text>
<line x1="603.0" y1="34.9" x2="605.5" y2="34.9" stroke="#6a6a6a" stroke-width="1"/>
<line x1="603.0" y1="25.3" x2="605.5" y2="25.3" stroke="#6a6a6a" stroke-width="1"/>
<line x1="603.0" y1="18.4" x2="605.5" y2="18.4" stroke="#6a6a6a" stroke-width="1"/>
<line x1="603.0" y1="13.1" x2="605.5" y2="13.1" stroke="#6a6a6a" stroke-width="1"/>
<line x1="603.0" y1="276.0" x2="605.5" y2="276.0" stroke="#6a6a6a" stroke-width="1"/>
<line x1="603.0" y1="266.4" x2="605.5" y2="266.4" stroke="#6a6a6a" stroke-width="1"/>
<line x1="603.0" y1="259.5" x2="605.5" y2="259.5" stroke="#6a6a6a" stroke-width="1"/>
<line x1="603.0" y1="254.2" x2="605.5" y2="254.2" stroke="#6a6a6a" stroke-width="1"/>
<line x1="603.0" y1="249.9" x2="605.5" y2="249.9" stroke="#6a6a6a" stroke-width="1"/>
<line x1="603.0" y1="246.2" x2="605.5" y2="246.2" stroke="#6a6a6a" stroke-width="1"/>
<line x1="603.0" y1="243.0" x2="605.5" y2="243.0" stroke="#6a6a6a" stroke-width="1"/>
<line x1="603.0" y1="240.2" x2="605.5" y2="240.2" stroke="#6a6a6a" stroke-width="1"/>
<line x1="603.0" y1="237.7" x2="607.5" y2="237.7" stroke="#6a6a6a" stroke-width="1"/>
<text x="611.5" y="241.5" font-size="10.5">10<tspan font-size="7" dy="-4.5">6</tspan></text>
<line x1="603.0" y1="221.2" x2="605.5" y2="221.2" stroke="#6a6a6a" stroke-width="1"/>
<line x1="603.0" y1="211.6" x2="605.5" y2="211.6" stroke="#6a6a6a" stroke-width="1"/>
<line x1="603.0" y1="204.7" x2="605.5" y2="204.7" stroke="#6a6a6a" stroke-width="1"/>
<line x1="603.0" y1="199.4" x2="605.5" y2="199.4" stroke="#6a6a6a" stroke-width="1"/>
<line x1="603.0" y1="195.1" x2="605.5" y2="195.1" stroke="#6a6a6a" stroke-width="1"/>
<line x1="603.0" y1="191.4" x2="605.5" y2="191.4" stroke="#6a6a6a" stroke-width="1"/>
<line x1="603.0" y1="188.2" x2="605.5" y2="188.2" stroke="#6a6a6a" stroke-width="1"/>
<line x1="603.0" y1="185.4" x2="605.5" y2="185.4" stroke="#6a6a6a" stroke-width="1"/>
<line x1="603.0" y1="182.9" x2="607.5" y2="182.9" stroke="#6a6a6a" stroke-width="1"/>
<text x="611.5" y="186.7" font-size="10.5">10<tspan font-size="7" dy="-4.5">7</tspan></text>
<line x1="603.0" y1="166.4" x2="605.5" y2="166.4" stroke="#6a6a6a" stroke-width="1"/>
<line x1="603.0" y1="156.8" x2="605.5" y2="156.8" stroke="#6a6a6a" stroke-width="1"/>
<line x1="603.0" y1="149.9" x2="605.5" y2="149.9" stroke="#6a6a6a" stroke-width="1"/>
<line x1="603.0" y1="144.6" x2="605.5" y2="144.6" stroke="#6a6a6a" stroke-width="1"/>
<line x1="603.0" y1="294.7" x2="607.5" y2="294.7" stroke="#6a6a6a" stroke-width="1"/>
<text transform="translate(611.5,297.9) scale(1.000,1)" font-size="10.5">2.5</text>
<line x1="603.0" y1="317.4" x2="607.5" y2="317.4" stroke="#6a6a6a" stroke-width="1"/>
<text transform="translate(611.5,320.6) scale(1.000,1)" font-size="10.5">2.0</text>
<line x1="603.0" y1="340.1" x2="607.5" y2="340.1" stroke="#6a6a6a" stroke-width="1"/>
<text transform="translate(611.5,343.3) scale(1.000,1)" font-size="10.5">1.5</text>
<line x1="603.0" y1="362.8" x2="607.5" y2="362.8" stroke="#6a6a6a" stroke-width="1"/>
<text transform="translate(611.5,366.0) scale(1.000,1)" font-size="10.5">1.0</text>
<line x1="603.0" y1="385.5" x2="607.5" y2="385.5" stroke="#6a6a6a" stroke-width="1"/>
<text transform="translate(611.5,388.7) scale(1.000,1)" font-size="10.5">0.5</text>
<line x1="603.0" y1="441.1" x2="607.5" y2="441.1" stroke="#6a6a6a" stroke-width="1"/>
<text transform="translate(611.8,444.9) scale(1.220,1)" font-size="10.5">90,000</text>
<line x1="603.0" y1="474.2" x2="607.5" y2="474.2" stroke="#6a6a6a" stroke-width="1"/>
<text transform="translate(611.8,478.0) scale(1.220,1)" font-size="10.5">60,000</text>
<line x1="603.0" y1="507.3" x2="607.5" y2="507.3" stroke="#6a6a6a" stroke-width="1"/>
<text transform="translate(611.8,511.1) scale(1.220,1)" font-size="10.5">30,000</text>
<line x1="104.5" y1="540.5" x2="104.5" y2="545.0" stroke="#6a6a6a" stroke-width="1"/>
<text transform="translate(104.2,558.5) scale(1.045,1)" font-size="11.4" text-anchor="middle">2000</text>
<line x1="124.5" y1="540.5" x2="124.5" y2="543.0" stroke="#6a6a6a" stroke-width="1"/>
<line x1="144.4" y1="540.5" x2="144.4" y2="543.0" stroke="#6a6a6a" stroke-width="1"/>
<line x1="164.3" y1="540.5" x2="164.3" y2="543.0" stroke="#6a6a6a" stroke-width="1"/>
<line x1="184.3" y1="540.5" x2="184.3" y2="543.0" stroke="#6a6a6a" stroke-width="1"/>
<line x1="204.2" y1="540.5" x2="204.2" y2="545.0" stroke="#6a6a6a" stroke-width="1"/>
<text transform="translate(203.9,558.5) scale(1.045,1)" font-size="11.4" text-anchor="middle">2005</text>
<line x1="224.2" y1="540.5" x2="224.2" y2="543.0" stroke="#6a6a6a" stroke-width="1"/>
<line x1="244.2" y1="540.5" x2="244.2" y2="543.0" stroke="#6a6a6a" stroke-width="1"/>
<line x1="264.1" y1="540.5" x2="264.1" y2="543.0" stroke="#6a6a6a" stroke-width="1"/>
<line x1="284.0" y1="540.5" x2="284.0" y2="543.0" stroke="#6a6a6a" stroke-width="1"/>
<line x1="304.0" y1="540.5" x2="304.0" y2="545.0" stroke="#6a6a6a" stroke-width="1"/>
<text transform="translate(303.7,558.5) scale(0.950,1)" font-size="11.4" text-anchor="middle">2010</text>
<line x1="323.9" y1="540.5" x2="323.9" y2="543.0" stroke="#6a6a6a" stroke-width="1"/>
<line x1="343.9" y1="540.5" x2="343.9" y2="543.0" stroke="#6a6a6a" stroke-width="1"/>
<line x1="363.8" y1="540.5" x2="363.8" y2="543.0" stroke="#6a6a6a" stroke-width="1"/>
<line x1="383.8" y1="540.5" x2="383.8" y2="543.0" stroke="#6a6a6a" stroke-width="1"/>
<line x1="403.8" y1="540.5" x2="403.8" y2="545.0" stroke="#6a6a6a" stroke-width="1"/>
<text transform="translate(403.4,558.5) scale(1.000,1)" font-size="11.4" text-anchor="middle">2015</text>
<line x1="423.7" y1="540.5" x2="423.7" y2="543.0" stroke="#6a6a6a" stroke-width="1"/>
<line x1="443.6" y1="540.5" x2="443.6" y2="543.0" stroke="#6a6a6a" stroke-width="1"/>
<line x1="463.6" y1="540.5" x2="463.6" y2="543.0" stroke="#6a6a6a" stroke-width="1"/>
<line x1="483.6" y1="540.5" x2="483.6" y2="543.0" stroke="#6a6a6a" stroke-width="1"/>
<line x1="503.5" y1="540.5" x2="503.5" y2="545.0" stroke="#6a6a6a" stroke-width="1"/>
<text transform="translate(503.2,558.5) scale(1.045,1)" font-size="11.4" text-anchor="middle">2020</text>
<line x1="523.5" y1="540.5" x2="523.5" y2="543.0" stroke="#6a6a6a" stroke-width="1"/>
<line x1="543.4" y1="540.5" x2="543.4" y2="543.0" stroke="#6a6a6a" stroke-width="1"/>
<line x1="563.3" y1="540.5" x2="563.3" y2="543.0" stroke="#6a6a6a" stroke-width="1"/>
<line x1="583.3" y1="540.5" x2="583.3" y2="543.0" stroke="#6a6a6a" stroke-width="1"/>
<line x1="603.2" y1="540.5" x2="603.2" y2="545.0" stroke="#6a6a6a" stroke-width="1"/>
<text transform="translate(603.0,558.5) scale(1.000,1)" font-size="11.4" text-anchor="middle">2025</text>
<text transform="translate(353.3,577.2) scale(1.05,1)" font-size="12" text-anchor="middle">Year</text>
<line x1="114.5" y1="25.2" x2="125.5" y2="25.2" stroke="#0b6470" stroke-width="3"/>
<text transform="translate(131.0,28.7) scale(1.048,1)" font-size="10.6">Martinique δ<tspan font-size="7" dy="-4">15</tspan><tspan dy="4">N (inverted)</tspan></text>
<line x1="276.2" y1="25.2" x2="287.2" y2="25.2" stroke="#9c8200" stroke-width="3"/>
<text transform="translate(293.2,28.7) scale(1.028,1)" font-size="10.6"><tspan font-style="italic">Sargassum</tspan> biomass</text>
<line x1="114.6" y1="155.6" x2="125.6" y2="155.6" stroke="#000000" stroke-width="3"/>
<text transform="translate(132.0,160.2) scale(1.045,1)" font-size="10.6">AMM index (inverted)</text>
<line x1="254.3" y1="155.6" x2="265.3" y2="155.6" stroke="#9c8200" stroke-width="3"/>
<text transform="translate(271.1,160.2) scale(1.034,1)" font-size="10.6"><tspan font-style="italic">Sargassum</tspan> biomass</text>
<line x1="115.0" y1="287.7" x2="126.0" y2="287.7" stroke="#d4b287" stroke-width="3"/>
<text transform="translate(132.1,292.0) scale(1.070,1)" font-size="10.6">Total dust</text>
<line x1="199.2" y1="287.7" x2="210.2" y2="287.7" stroke="#24484a" stroke-width="3"/>
<text transform="translate(216.2,292.0) scale(1.092,1)" font-size="10.6">Total BC</text>
<line x1="113.2" y1="419.6" x2="124.2" y2="419.6" stroke="#7b7a00" stroke-width="3"/>
<text transform="translate(130.6,422.8) scale(1.045,1)" font-size="10.6">Amazon (Obidos)</text>
<line x1="232.2" y1="419.6" x2="243.2" y2="419.6" stroke="#bab565" stroke-width="3"/>
<text transform="translate(249.2,422.8) scale(1.056,1)" font-size="10.6">Orinoco (Ciudad Bolivar)</text>
<text x="582" y="29.3" font-size="17.5" font-weight="bold" style="fill:#000" stroke="#000" stroke-width="0.9" stroke-linejoin="round">a</text>
<text x="582" y="161.3" font-size="17.5" font-weight="bold" style="fill:#000" stroke="#000" stroke-width="0.9" stroke-linejoin="round">b</text>
<text x="582" y="293.4" font-size="17.5" font-weight="bold" style="fill:#000" stroke="#000" stroke-width="0.9" stroke-linejoin="round">c</text>
<text x="582" y="425.5" font-size="17.5" font-weight="bold" style="fill:#000" stroke="#000" stroke-width="0.9" stroke-linejoin="round">d</text>
<text transform="translate(49.7,79.7) rotate(-90) scale(1.000,1)" font-size="12.5" text-anchor="middle" dominant-baseline="central">CB-δ<tspan font-size="8.5" dy="-4.8">15</tspan><tspan dy="4.8">N</tspan></text>
<text transform="translate(64.4,80.2) rotate(-90) scale(1.104,1)" font-size="12.7" text-anchor="middle" dominant-baseline="central">(vs. air in ‰)</text>
<text transform="translate(70.6,210.1) rotate(-90) scale(1.026,1)" font-size="12.7" text-anchor="middle" dominant-baseline="central">AMM index</text>
<text transform="translate(48.0,345.8) rotate(-90) scale(1.090,1)" font-size="12.7" text-anchor="middle" dominant-baseline="central">Total dust</text>
<text transform="translate(60.6,346.0) rotate(-90) scale(1.032,1)" font-size="12.7" text-anchor="middle" dominant-baseline="central">(ng m<tspan font-size="8.2" dy="-4.8">−3</tspan><tspan dy="4.8"> s</tspan><tspan font-size="8.2" dy="-4.8">−1</tspan><tspan dy="4.8">)</tspan></text>
<text transform="translate(21.4,475.1) rotate(-90) scale(1.054,1)" font-size="12.7" text-anchor="middle" dominant-baseline="central">Amazon outflow</text>
<text transform="translate(36.1,475.3) rotate(-90) scale(1.035,1)" font-size="12.7" text-anchor="middle" dominant-baseline="central">(m<tspan font-size="8.2" dy="-4.8">3</tspan><tspan dy="4.8"> s</tspan><tspan font-size="8.2" dy="-4.8">−1</tspan><tspan dy="4.8">)</tspan></text>
<text transform="translate(657.8,78.9) rotate(90) scale(1.013,1)" font-size="12.7" text-anchor="middle" dominant-baseline="central" font-style="italic">Sargassum</text>
<text transform="translate(642.4,78.3) rotate(90) scale(1.027,1)" font-size="12.7" text-anchor="middle" dominant-baseline="central">biomass (tons)</text>
<text transform="translate(657.0,210.5) rotate(90) scale(1.013,1)" font-size="12.7" text-anchor="middle" dominant-baseline="central" font-style="italic">Sargassum</text>
<text transform="translate(642.4,210.5) rotate(90) scale(1.027,1)" font-size="12.7" text-anchor="middle" dominant-baseline="central">biomass (tons)</text>
<text transform="translate(658.6,345.6) rotate(90) scale(1.020,1)" font-size="12.7" text-anchor="middle" dominant-baseline="central">Total BC</text>
<text transform="translate(643.5,345.6) rotate(90) scale(1.000,1)" font-size="12.7" text-anchor="middle" dominant-baseline="central">(ng m<tspan font-size="8.2" dy="-4.8">−3</tspan><tspan dy="4.8"> s</tspan><tspan font-size="8.2" dy="-4.8">−1</tspan><tspan dy="4.8">)</tspan></text>
<text transform="translate(678.2,474.4) rotate(90) scale(1.090,1)" font-size="12.7" text-anchor="middle" dominant-baseline="central">Orinoco outflow</text>
<text transform="translate(664.0,474.4) rotate(90) scale(1.035,1)" font-size="12.7" text-anchor="middle" dominant-baseline="central">(m<tspan font-size="8.2" dy="-4.8">3</tspan><tspan dy="4.8"> s</tspan><tspan font-size="8.2" dy="-4.8">−1</tspan><tspan dy="4.8">)</tspan></text>
<text x="18.4" y="8.5" font-size="10.5" text-anchor="middle">Higher</text>
<line x1="18.4" y1="48.0" x2="18.4" y2="16.0" stroke="#3f4d66" stroke-width="1.9"/>
<path d="M15.1 19.5 L18.4 13.0 L21.7 19.5 L18.4 18.5 Z" fill="#3f4d66"/>
<text x="18.4" y="62.0" font-size="10.5" text-anchor="middle">N<tspan font-size="7" dy="2.5">2</tspan></text>
<text x="18.4" y="74.5" font-size="10.5" text-anchor="middle">fixation</text>
<line x1="18.4" y1="83.0" x2="18.4" y2="120.5" stroke="#3f4d66" stroke-width="1.9"/>
<path d="M15.1 117.0 L18.4 123.5 L21.7 117.0 L18.4 118.0 Z" fill="#3f4d66"/>
<text x="18.4" y="134.0" font-size="10.5" text-anchor="middle">Lower</text>
<text x="36.4" y="154.7" font-size="10.5" text-anchor="middle">Higher</text>
<line x1="36.4" y1="193.0" x2="36.4" y2="160.7" stroke="#3f4d66" stroke-width="1.9"/>
<path d="M33.1 164.2 L36.4 157.7 L39.7 164.2 L36.4 163.2 Z" fill="#3f4d66"/>
<text x="36.4" y="210.0" font-size="10.5" text-anchor="middle">P*</text>
<text x="36.4" y="222.0" font-size="10.5" text-anchor="middle">supply</text>
<line x1="36.4" y1="231.4" x2="36.4" y2="265.6" stroke="#3f4d66" stroke-width="1.9"/>
<path d="M33.1 262.1 L36.4 268.6 L39.7 262.1 L36.4 263.1 Z" fill="#3f4d66"/>
<text x="36.4" y="278.3" font-size="10.5" text-anchor="middle">Lower</text>
</svg></body></html>
